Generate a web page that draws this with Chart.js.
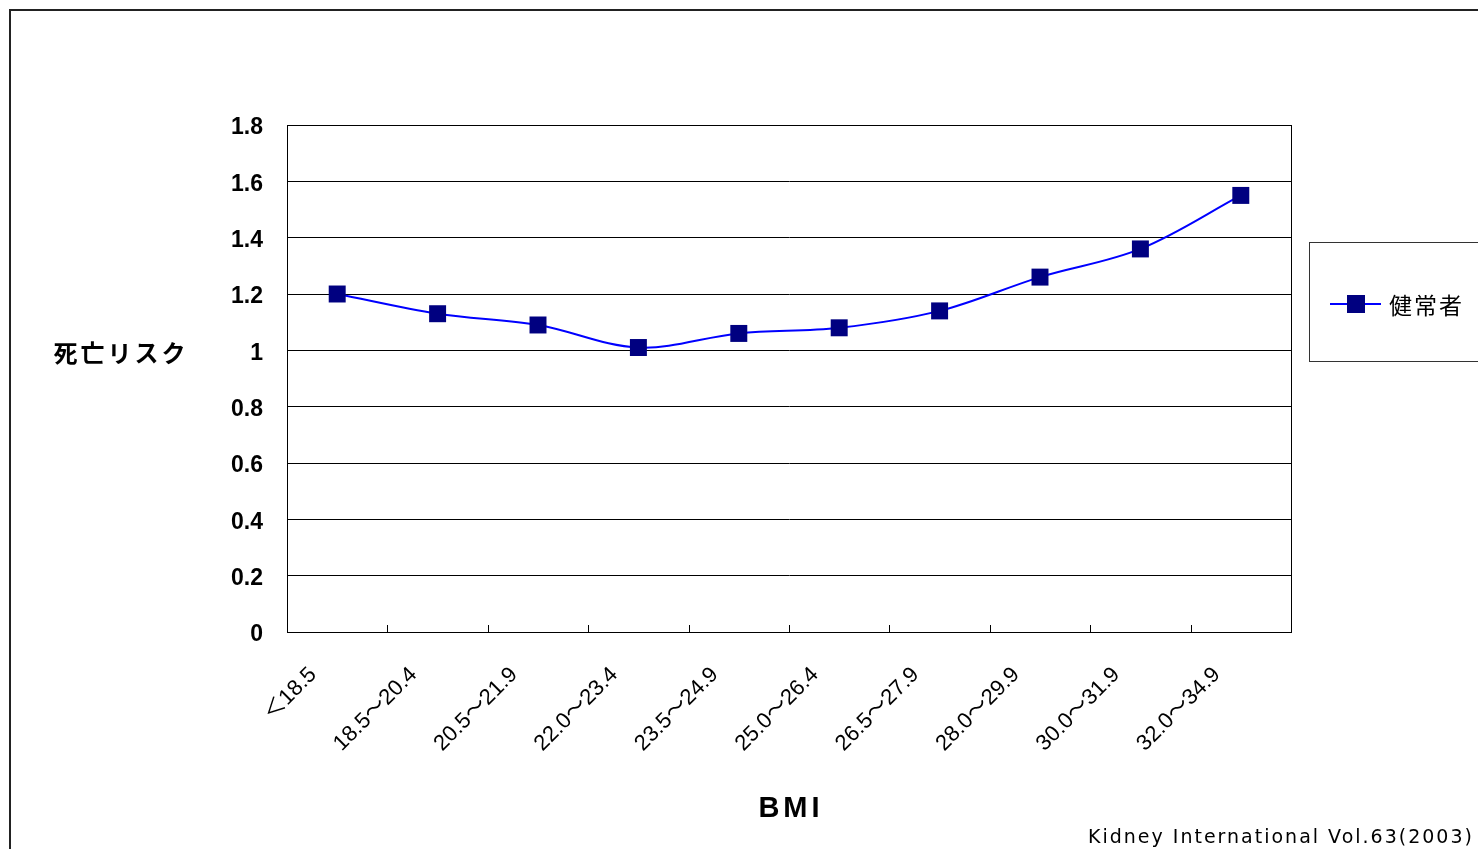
<!DOCTYPE html>
<html>
<head>
<meta charset="utf-8">
<script src="https://cdn.jsdelivr.net/npm/chart.js@4"></script>
<style>
  body { margin: 0; background: #fff; }
  canvas { display: block; }
</style>
</head>
<body>
<canvas id="myChart" width="1478" height="849"></canvas>
<script>
const categories = ['＜18.5', '18.5～20.4', '20.5～21.9', '22.0～23.4', '23.5～24.9',
  '25.0～26.4', '26.5～27.9', '28.0～29.9', '30.0～31.9', '32.0～34.9'];
const riskValues = [1.20, 1.13, 1.09, 1.01, 1.06, 1.08, 1.14, 1.26, 1.36, 1.55];
const seriesName = '健常者';
const yTitle = '死亡リスク';
const xTitle = 'BMI';
const sourceNote = 'Kidney International Vol.63(2003)';

// frame, titles, legend box and inward x ticks (Excel look)
const decor = {
  id: 'decor',
  beforeDraw(chart) {
    const ctx = chart.ctx;
    ctx.save();
    ctx.fillStyle = '#fff';
    ctx.fillRect(0, 0, chart.width, chart.height);
    ctx.restore();
  },
  afterDraw(chart) {
    const ctx = chart.ctx;
    const a = chart.chartArea;
    const xs = chart.scales.x;
    ctx.save();
    // outer frame
    ctx.strokeStyle = '#222';
    ctx.lineWidth = 2;
    ctx.strokeRect(10, 10, 2000, 2000);
    // plot border
    ctx.strokeStyle = '#000';
    ctx.lineWidth = 1;
    ctx.strokeRect(a.left + 0.5, a.top + 0.5, a.right - a.left, a.bottom - a.top);
    // inward category ticks
    ctx.beginPath();
    for (let i = 0; i <= categories.length; i++) {
      const x = Math.round(xs.getPixelForValue(i - 0.5)) + 0.5;
      ctx.moveTo(x, a.bottom);
      ctx.lineTo(x, a.bottom - 7);
    }
    ctx.stroke();
    // axis titles
    ctx.fillStyle = '#000';
    ctx.textAlign = 'center';
    ctx.textBaseline = 'middle';
    ctx.letterSpacing = '3px';
    ctx.font = 'bold 24px "Noto Sans CJK JP"';
    ctx.fillText(yTitle, 121, 353);
    ctx.letterSpacing = '4px';
    ctx.font = 'bold 29px "Liberation Sans", Arial';
    ctx.fillText(xTitle, (a.left + a.right) / 2 + 2, 809);
    // source note
    ctx.textAlign = 'left';
    ctx.textBaseline = 'alphabetic';
    ctx.letterSpacing = '2px';
    ctx.font = '19px "DejaVu Sans"';
    ctx.fillText(sourceNote, 1088, 843);
    // legend
    const ds = chart.data.datasets[0];
    ctx.strokeStyle = '#333';
    ctx.lineWidth = 1;
    ctx.strokeRect(1309.5, 242.5, 400, 119);
    ctx.strokeStyle = ds.borderColor;
    ctx.lineWidth = 2;
    ctx.beginPath();
    ctx.moveTo(1330, 304);
    ctx.lineTo(1381, 304);
    ctx.stroke();
    ctx.fillStyle = ds.pointBackgroundColor;
    ctx.fillRect(1347, 295, 18, 18);
    ctx.fillStyle = '#000';
    ctx.textBaseline = 'middle';
    ctx.letterSpacing = '2px';
    ctx.font = '23px "Noto Sans CJK JP"';
    ctx.fillText(ds.label, 1389, 305);
    ctx.restore();
  }
};

const config = {
  type: 'line',
  data: {
    labels: categories,
    datasets: [{
      label: seriesName,
      data: riskValues,
      borderColor: '#0000FF',
      borderWidth: 2,
      tension: 0.35,
      pointStyle: 'rect',
      pointRadius: 12,
      pointHoverRadius: 12,
      pointBackgroundColor: '#000080',
      pointBorderColor: '#000080',
      pointBorderWidth: 0
    }]
  },
  options: {
    responsive: false,
    animation: false,
    layout: { padding: { left: 0, top: 125, right: 187, bottom: 0 } },
    plugins: {
      legend: { display: false },
      tooltip: { enabled: false }
    },
    scales: {
      x: {
        offset: true,
        grid: { display: false },
        border: { color: '#000', width: 1 },
        ticks: {
          minRotation: 45,
          maxRotation: 45,
          labelOffset: -24,
          padding: 22,
          color: '#000',
          font: { family: '"Liberation Sans", "Noto Sans CJK JP"', size: 22 }
        },
        afterFit(scale) { scale.height = 217; }
      },
      y: {
        min: 0,
        max: 1.8,
        ticks: {
          stepSize: 0.2,
          padding: 24,
          labelOffset: 3,
          color: '#000',
          font: { family: '"Liberation Sans", Arial', size: 23, weight: 'bold' },
          callback: v => String(Math.round(v * 10) / 10)
        },
        grid: { color: '#000', lineWidth: 1, drawTicks: false },
        border: { color: '#000', width: 1 },
        afterFit(scale) { scale.width = 287; }
      }
    }
  },
  plugins: [decor]
};

var myChart = new Chart(document.getElementById('myChart'), config);
</script>
</body>
</html>
